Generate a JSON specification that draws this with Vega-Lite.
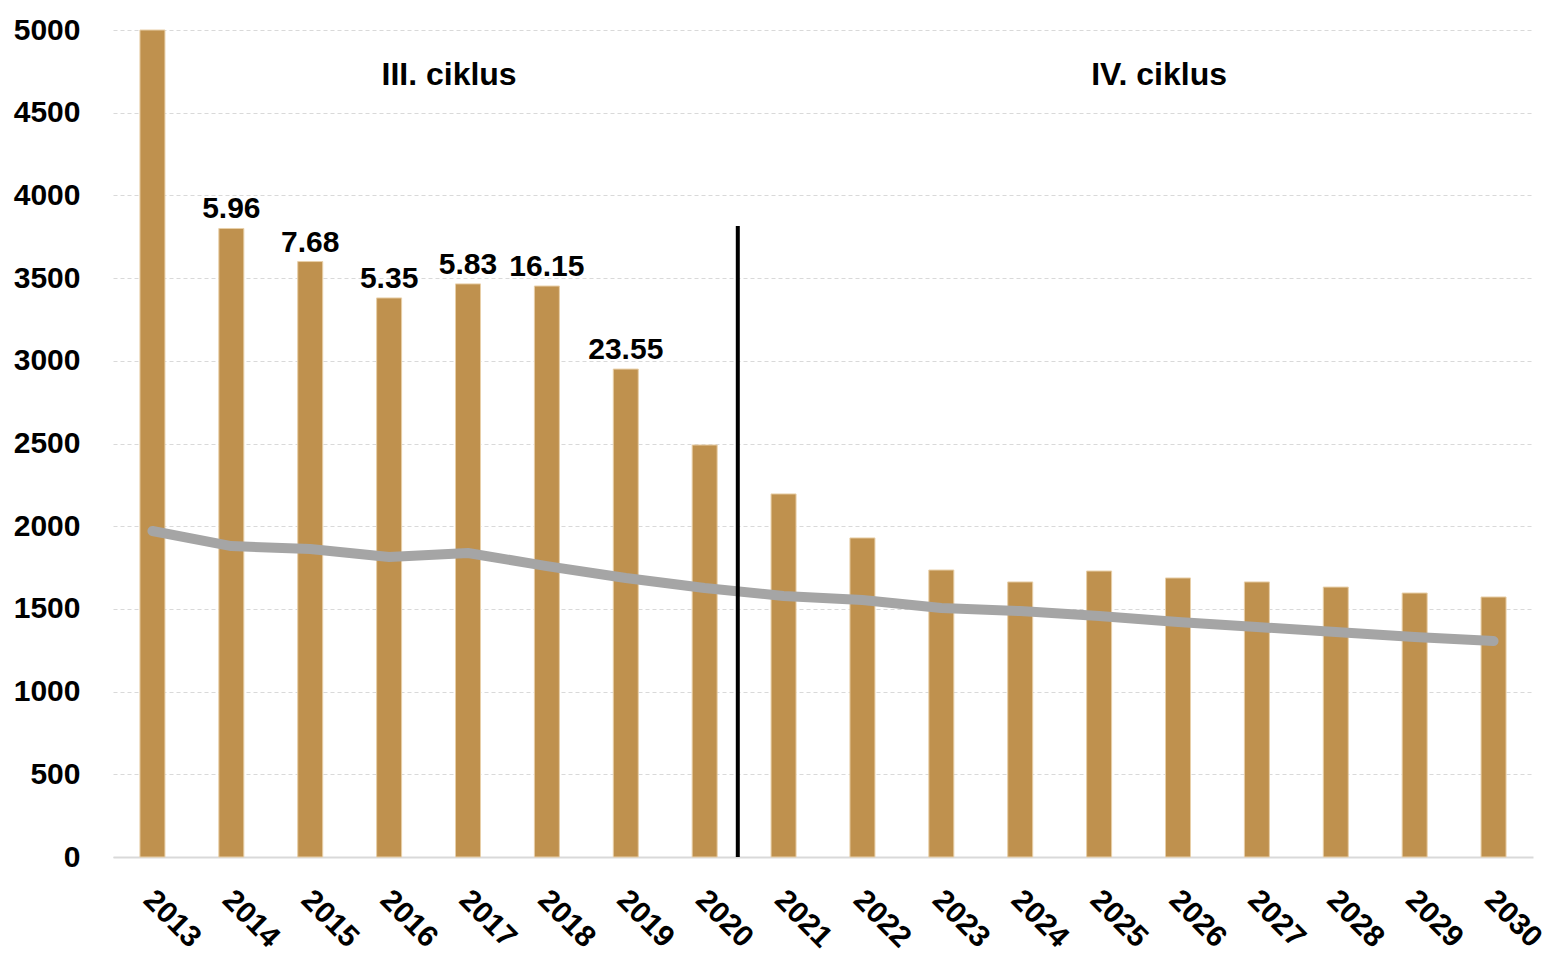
{
  "$schema": "https://vega.github.io/schema/vega-lite/v6.json",
  "width": 1420,
  "height": 827,
  "autosize": {"type": "none"},
  "padding": {"left": 113, "top": 30, "right": 24, "bottom": 105},
  "background": "white",
  "config": {
    "view": {"stroke": null},
    "font": "Liberation Sans",
    "axis": {"labelFont": "Liberation Sans", "labelFontWeight": "bold", "labelFontSize": 30, "labelColor": "#000000"}
  },
  "datasets": {
    "main": [
      {"year": "2013", "value": 5000, "trend": 1971, "label": ""},
      {"year": "2014", "value": 3800, "trend": 1880, "label": "5.96"},
      {"year": "2015", "value": 3600, "trend": 1862, "label": "7.68"},
      {"year": "2016", "value": 3380, "trend": 1814, "label": "5.35"},
      {"year": "2017", "value": 3465, "trend": 1838, "label": "5.83"},
      {"year": "2018", "value": 3452, "trend": 1759, "label": "16.15"},
      {"year": "2019", "value": 2950, "trend": 1687, "label": "23.55"},
      {"year": "2020", "value": 2491, "trend": 1626, "label": ""},
      {"year": "2021", "value": 2195, "trend": 1578, "label": ""},
      {"year": "2022", "value": 1929, "trend": 1554, "label": ""},
      {"year": "2023", "value": 1735, "trend": 1505, "label": ""},
      {"year": "2024", "value": 1663, "trend": 1487, "label": ""},
      {"year": "2025", "value": 1729, "trend": 1457, "label": ""},
      {"year": "2026", "value": 1687, "trend": 1421, "label": ""},
      {"year": "2027", "value": 1663, "trend": 1391, "label": ""},
      {"year": "2028", "value": 1632, "trend": 1360, "label": ""},
      {"year": "2029", "value": 1596, "trend": 1330, "label": ""},
      {"year": "2030", "value": 1572, "trend": 1306, "label": ""}
    ],
    "divider": [{"year": "2020", "top": 3815, "bottom": 0}],
    "cycles": [
      {"year": "2016", "y": 4730, "text": "III. ciklus"},
      {"year": "2025", "y": 4730, "text": "IV. ciklus"}
    ]
  },
  "layer": [
    {
      "data": {"name": "main"},
      "mark": {"type": "bar", "color": "#bf914e", "width": 25, "stroke": "#e8cfa8", "strokeWidth": 1},
      "encoding": {
        "x": {"field": "year", "type": "ordinal", "scale": {"paddingInner": 0, "paddingOuter": 0},
              "axis": {"title": null, "labelAngle": 45, "ticks": false, "domain": true, "domainColor": "#d9d9d9", "domainWidth": 2, "labelPadding": 38, "labelAlign": "left", "labelBaseline": "middle", "labelOffset": -4, "grid": false}},
        "y": {"field": "value", "type": "quantitative", "scale": {"domain": [0, 5000], "nice": false},
              "axis": {"title": null, "format": "d", "values": [0,500,1000,1500,2000,2500,3000,3500,4000,4500,5000], "ticks": false, "domain": false, "labelPadding": 33, "grid": true, "gridColor": "#d9d9d9", "gridDash": [4, 3], "gridWidth": 1}}
      }
    },
    {
      "data": {"name": "main"},
      "mark": {"type": "line", "color": "#a5a5a5", "strokeWidth": 10, "strokeCap": "round", "strokeJoin": "round"},
      "encoding": {
        "x": {"field": "year", "type": "ordinal"},
        "y": {"field": "trend", "type": "quantitative"}
      }
    },
    {
      "data": {"name": "divider"},
      "mark": {"type": "rule", "color": "#000000", "strokeWidth": 4},
      "encoding": {
        "x": {"field": "year", "type": "ordinal", "bandPosition": 0.92},
        "y": {"field": "top", "type": "quantitative"},
        "y2": {"field": "bottom"}
      }
    },
    {
      "data": {"name": "main"},
      "mark": {"type": "text", "font": "Liberation Sans", "fontWeight": "bold", "fontSize": 30, "baseline": "bottom", "dy": -4, "color": "#000000"},
      "encoding": {
        "x": {"field": "year", "type": "ordinal"},
        "y": {"field": "value", "type": "quantitative"},
        "text": {"field": "label"}
      }
    },
    {
      "data": {"name": "cycles"},
      "mark": {"type": "text", "font": "Liberation Sans", "fontWeight": "bold", "fontSize": 32, "baseline": "middle", "align": "center", "color": "#000000"},
      "encoding": {
        "x": {"field": "year", "type": "ordinal", "bandPosition": 1.26},
        "y": {"field": "y", "type": "quantitative"},
        "text": {"field": "text"}
      }
    }
  ]
}
